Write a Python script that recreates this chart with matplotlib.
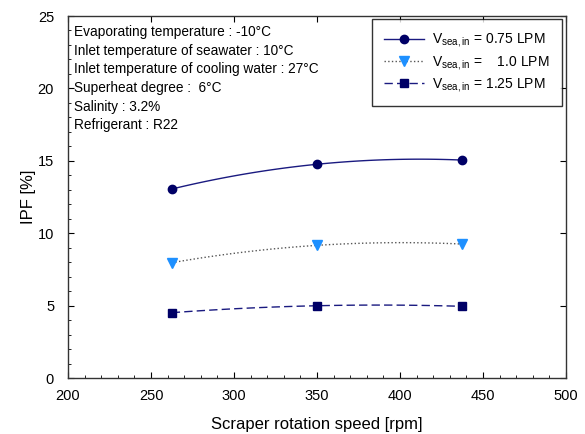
import numpy as np
import matplotlib
matplotlib.use("Agg")
import matplotlib.pyplot as plt
from matplotlib.ticker import MultipleLocator

plt.rcParams['font.family'] = ['Liberation Sans', 'DejaVu Sans']
plt.rcParams['mathtext.fontset'] = 'custom'
plt.rcParams['mathtext.rm'] = 'Liberation Sans'

speed = [262.5, 350, 437.5]
ipf_075 = [13.05, 14.76, 15.05]
ipf_100 = [7.96, 9.16, 9.25]
ipf_125 = [4.51, 4.99, 4.95]
labels = [r'V$_{\mathregular{sea,in}}$ = 0.75 LPM',
          r'V$_{\mathregular{sea,in}}$ =    1.0 LPM',
          r'V$_{\mathregular{sea,in}}$ = 1.25 LPM']
conditions = ['Evaporating temperature : -10°C',
              'Inlet temperature of seawater : 10°C',
              'Inlet temperature of cooling water : 27°C',
              'Superheat degree :  6°C',
              'Salinity : 3.2%',
              'Refrigerant : R22']

fig = plt.figure(figsize=(5.85, 4.34), dpi=100)
ax = fig.add_axes([68/585, 1-378/434, (566-68)/585, (378-16)/434])

def smooth(x, y):
    c = np.polyfit(x, y, 2)
    xs = np.linspace(min(x), max(x), 60)
    return xs, np.polyval(c, xs)

styles = [
    dict(ls='-', color='#1a1a80', marker='o', mfc='#000066', mec='#000066', ms=6),
    dict(ls=':', color='#555555', marker='v', mfc='#1e90ff', mec='#1e90ff', ms=7),
    dict(ls=(0, (6, 3)), color='#1a1a80', marker='s', mfc='#000066', mec='#000066', ms=6),
]
handles = []
for ys, st, lab in zip([ipf_075, ipf_100, ipf_125], styles, labels):
    xs, yy = smooth(speed, ys)
    ax.plot(xs, yy, ls=st['ls'], color=st['color'], lw=1.0)
    ax.plot(speed, ys, ls='none', marker=st['marker'], mfc=st['mfc'], mec=st['mec'], ms=st['ms'])
    h, = ax.plot([], [], ls=st['ls'], color=st['color'], lw=1.0, marker=st['marker'],
                 mfc=st['mfc'], mec=st['mec'], ms=st['ms'], label=lab)
    handles.append(h)

ax.set_xlim(200, 500)
ax.set_ylim(0, 25)
ax.xaxis.set_major_locator(MultipleLocator(50))
ax.xaxis.set_minor_locator(MultipleLocator(10))
ax.yaxis.set_major_locator(MultipleLocator(5))
ax.yaxis.set_minor_locator(MultipleLocator(1))
ax.tick_params(which='both', direction='in', top=True, right=True, labelsize=10.5)
ax.tick_params(which='major', length=4)
ax.tick_params(which='minor', length=2)
ax.tick_params(which='minor', top=False, right=False)
ax.tick_params(axis='y', pad=10)
ax.tick_params(axis='x', pad=8)
for s in ax.spines.values():
    s.set_color('#333333')
    s.set_linewidth(1.0)

ax.set_xlabel('Scraper rotation speed [rpm]', fontsize=12, labelpad=10)
ax.set_ylabel('IPF [%]', fontsize=12, labelpad=1)

for i, t in enumerate(conditions):
    ax.text(0.012, 0.956 - i * 0.0515, t, transform=ax.transAxes, fontsize=9.8,
            va='center', ha='left')

leg = ax.legend(handles=handles, loc='upper right', bbox_to_anchor=(0.992, 0.992),
                fontsize=10, frameon=True, fancybox=False, edgecolor='black',
                handlelength=2.9, borderpad=0.9, labelspacing=0.3,
                handletextpad=0.55, borderaxespad=0.0)
leg.get_frame().set_linewidth(1.0)

fig.savefig('out.png', dpi=100)
